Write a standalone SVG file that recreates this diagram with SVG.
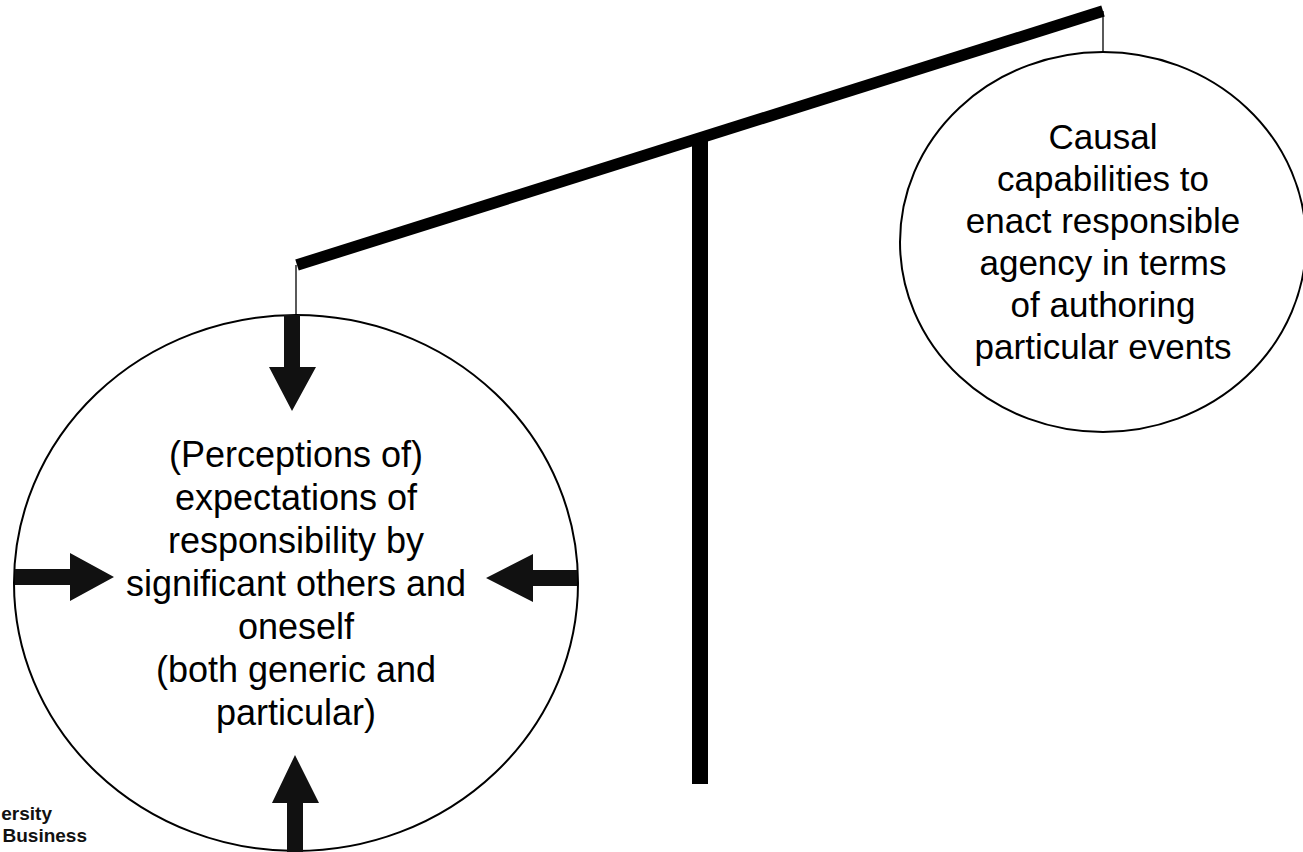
<svg xmlns="http://www.w3.org/2000/svg" width="1303" height="852" viewBox="0 0 1303 852">
<style>
.circ{fill:#fff;stroke:#000;stroke-width:2}
.lbl{font-family:"Liberation Sans",Arial,sans-serif;font-size:36px;fill:#000;text-anchor:middle}
.lbl2{font-family:"Liberation Sans",Arial,sans-serif;font-size:35px;fill:#000;text-anchor:middle}
.arr{fill:#111}
.hang{stroke:#000;stroke-width:1.3}
.logo{font-family:"Liberation Sans",Arial,sans-serif;font-size:19px;font-weight:bold;fill:#111;text-anchor:end}
</style>
<rect width="1303" height="852" fill="#fff"/>
<g id="scale">
<line x1="297" y1="265" x2="1103" y2="11" stroke="#000" stroke-width="11.5"/>
<rect x="692" y="138" width="16" height="646" fill="#000"/>
<line class="hang" x1="296" y1="265" x2="296" y2="315"/>
<line class="hang" x1="1103" y1="11" x2="1103" y2="52"/>
</g>
<g id="node-expectations">
<ellipse class="circ" cx="296" cy="583" rx="282" ry="268"/>
<text class="lbl" x="296"><tspan x="296" y="467">(Perceptions of)</tspan><tspan x="296" y="510">expectations of</tspan><tspan x="296" y="553">responsibility by</tspan><tspan x="296" y="596">significant others and</tspan><tspan x="296" y="639">oneself</tspan><tspan x="296" y="682">(both generic and</tspan><tspan x="296" y="725">particular)</tspan></text>
</g>
<g id="node-capabilities">
<ellipse class="circ" cx="1103" cy="242" rx="203" ry="190"/>
<text class="lbl2" x="1103"><tspan x="1103" y="149">Causal</tspan><tspan x="1103" y="191">capabilities to</tspan><tspan x="1103" y="233">enact responsible</tspan><tspan x="1103" y="275">agency in terms</tspan><tspan x="1103" y="317">of authoring</tspan><tspan x="1103" y="359">particular events</tspan></text>
</g>
<g id="connectors">
<polygon class="arr" points="284,315 300,315 300,367 316,367 292,411 269,367 284,367"/>
<polygon class="arr" points="287,852 303,852 303,803 319,803 295,755 272,803 287,803"/>
<polygon class="arr" points="15,569 70,569 70,553 114,577 70,601 70,585 15,585"/>
<polygon class="arr" points="577,570 533,570 533,554 486,578 533,602 533,586 577,586"/>
</g>
<g id="logo">
<text class="logo" x="52" y="820">ersity</text>
<text class="logo" x="87" y="842">Business</text>
</g>
</svg>
